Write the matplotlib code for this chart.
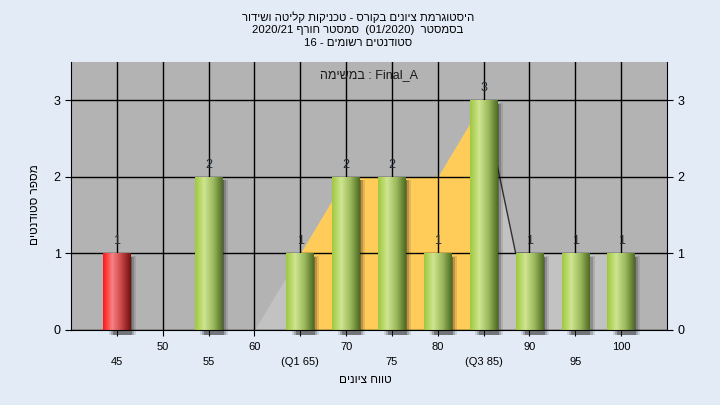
import numpy as np
import matplotlib
matplotlib.use("Agg")
import matplotlib.pyplot as plt
from matplotlib.colors import LinearSegmentedColormap

plt.rcParams['font.family'] = ['Liberation Sans', 'DejaVu Sans']

# data
grades = [45, 55, 65, 70, 75, 80, 85, 90, 95, 100]
counts = [1, 2, 1, 2, 2, 1, 3, 1, 1, 1]
curve_x = [45, 50, 55, 60, 65, 70, 75, 80, 85, 88.5, 90, 95, 100]
curve_y = [0, 0, 0, 0, 1, 2, 2, 2, 3, 1, 1, 1, 1]
q1, q3 = 65, 85
pass_mark = 55
tick_vals = [45, 50, 55, 60, 65, 70, 75, 80, 85, 90, 95, 100]
tick_text = ['45', '50', '55', '60', '(Q1 65)', '70', '75', '80', '(Q3 85)', '90', '95', '100']

# Hebrew strings written in visual (left-to-right) order
title_lines = [
    "רודישו הטילק תוקינכט - סרוקב םינויצ תמרגוטסיה",
    "2020/21 ףרוח רטסמס  (01/2020)  רטסמסב",
    "16 - םימושר םיטנדוטס",
]
task_label = "המישמב : Final_A"
x_label = "םינויצ חווט"
y_label = "םיטנדוטס רפסמ"

fig = plt.figure(figsize=(7.2, 4.05), dpi=100)
fig.patch.set_facecolor('#e2ebf6')
ax = fig.add_axes([71 / 720, 1 - 330 / 405, (667 - 71) / 720, (330 - 62) / 405])
ax.set_facecolor('#b3b3b3')

cx = np.array(curve_x)
cy = np.array(curve_y)
start = cx >= 60
ax.fill_between(cx[start], cy[start], color='#c2c2c2', lw=0, zorder=1)
ax.fill_between(cx, cy, where=(cx >= q1) & (cx <= q3), color='#ffcc5a', lw=0, zorder=1.1)
tail = (cx >= q3) & (cx <= 90)
ax.plot(cx[tail], cy[tail], color='#303030', lw=1, zorder=1.2)

ax.set_xticks(tick_vals)
ax.set_yticks([0, 1, 2, 3])
ax.grid(True, color='black', lw=1.0)
for gl in ax.get_xgridlines() + ax.get_ygridlines():
    gl.set_zorder(1.5)

width = 3.0
# blurred drop shadows
for k, a in [(1.0, 0.12), (0.85, 0.22), (0.7, 0.35)]:
    ax.bar(np.array(grades) + 0.6, np.array(counts) + 0.02 * k, width * k, bottom=-0.06,
           color='#1a1a1a', alpha=a, lw=0, zorder=1.8, clip_on=False)

green = LinearSegmentedColormap.from_list('g', ['#a0c840', '#cfe590', '#9bb85c', '#4e6c22'])
red = LinearSegmentedColormap.from_list('r', ['#ff1818', '#f88282', '#c84646', '#741010'])
grad = np.linspace(0, 1, 64).reshape(1, -1)
bars = ax.bar(grades, counts, width, color='none', lw=0, zorder=2)
for g, b in zip(grades, bars):
    cmap = red if g < pass_mark else green
    x0, y0 = b.get_x(), b.get_y()
    im = ax.imshow(grad, cmap=cmap, aspect='auto', zorder=2.1,
                   extent=[x0, x0 + b.get_width(), y0, y0 + b.get_height()])
    im.set_clip_path(b)

for g, c in zip(grades, counts):
    ax.text(g, c + 0.08, str(c), ha='center', va='bottom', fontsize=9,
            color='#222a33', zorder=3)

ax.set_xlim(40, 105)
ax.set_ylim(0, 3.5)

ax.set_xticklabels([t if i % 2 else '\n' + t for i, t in enumerate(tick_text)])
for lab in ax.get_xticklabels():
    lab.set_linespacing(1.55)
ax.tick_params(axis='x', length=4, labelsize=8, pad=5)
ax.tick_params(axis='y', length=4, labelsize=9, right=True, labelright=True)
ax.spines['top'].set_visible(False)
for s in ['left', 'right', 'bottom']:
    ax.spines[s].set_color('black')

ax.text(0.5, 0.95, task_label, transform=ax.transAxes, ha='center', va='center',
        fontsize=9, color='#1a1a1a', zorder=4)

fig.text(0.497, 1 - 11 / 405, "\n".join(title_lines), ha='center', va='top', fontsize=8.2,
         linespacing=1.35)
fig.text(0.508, 1 - 380 / 405, x_label, ha='center', va='center', fontsize=8.5)
fig.text(35 / 720, 1 - 205 / 405, y_label, ha='center', va='center', fontsize=8.5,
         rotation=90)

fig.savefig('out.png', dpi=100, facecolor=fig.get_facecolor())
